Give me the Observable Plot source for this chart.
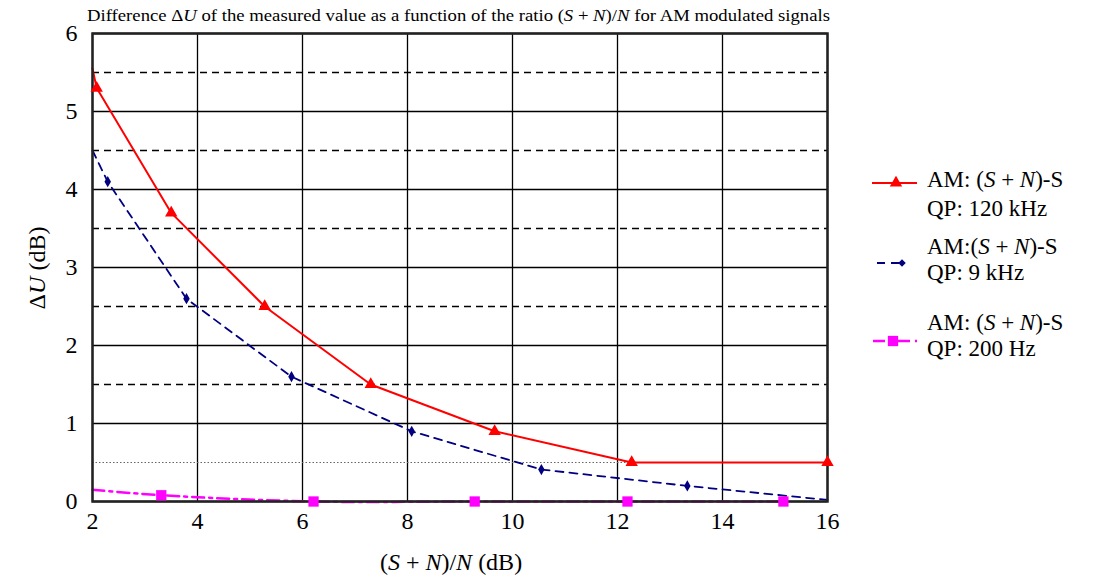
<!DOCTYPE html>
<html>
<head>
<meta charset="utf-8">
<script src="https://cdn.jsdelivr.net/npm/d3@7"></script>
<script src="https://cdn.jsdelivr.net/npm/@observablehq/plot@0.6"></script>
<style>
  body { margin: 0; background: white; }
  #chart { position: relative; width: 1093px; height: 580px; }
</style>
</head>
<body>
<div id="chart"></div>
<script>
// ---- data ----
const xTicks = [2, 4, 6, 8, 10, 12, 14, 16];
const yTicks = [0, 1, 2, 3, 4, 5, 6];
const dashedLevels = [1.5, 2.5, 3.5, 4.5, 5.5];
const dottedLevels = [0.5];

const redX = [2.0, 2.08, 3.5, 5.28, 7.3, 9.66, 12.27, 16.0];
const redY = [5.55, 5.3, 3.7, 2.5, 1.5, 0.9, 0.5, 0.5];
const redMarked = [false, true, true, true, true, true, true, true];

const blueX = [2.0, 2.29, 3.79, 5.79, 8.08, 10.55, 13.33, 16.0];
const blueY = [4.5, 4.1, 2.6, 1.6, 0.9, 0.41, 0.2, 0.02];
const blueMarked = [false, true, true, true, true, true, true, false];

const magX = [2.0, 3.31, 6.21, 9.28, 12.19, 15.16];
const magY = [0.15, 0.08, 0.0, 0.0, 0.0, 0.0];
const magMarked = [false, true, true, true, true, true];

const legendLines = [
  ["AM: (", "S", " + ", "N", ")-S"],
  ["AM:(", "S", " + ", "N", ")-S"],
  ["AM: (", "S", " + ", "N", ")-S"]
];
const legendSub = ["QP: 120 kHz", "QP: 9 kHz", "QP: 200 Hz"];

const toRows = (xs, ys, ms) => xs.map((x, i) => ({x, y: ys[i], m: ms[i]}));
const red = toRows(redX, redY, redMarked);
const blue = toRows(blueX, blueY, blueMarked);
const mag = toRows(magX, magY, magMarked);

const RED = "#ff0000", BLUE = "#000080", MAG = "#ff00ff";
const ff = "'Liberation Serif', 'Times New Roman', serif";

const plot = Plot.plot({
  width: 1093,
  height: 580,
  marginLeft: 92,
  marginRight: 266,
  marginTop: 33,
  marginBottom: 79,
  x: {domain: [2, 16], ticks: xTicks, label: null},
  y: {domain: [0, 6], ticks: yTicks, label: null},
  style: {fontFamily: ff, fontSize: "24px", color: "#000", background: "white", overflow: "visible"},
  marks: [
    Plot.ruleX(xTicks, {stroke: "#000", strokeWidth: 1.3}),
    Plot.ruleY(yTicks, {stroke: "#000", strokeWidth: 1.3}),
    Plot.ruleY(dashedLevels, {stroke: "#000", strokeWidth: 1.6, strokeDasharray: "7,5"}),
    Plot.ruleY(dottedLevels, {stroke: "#666", strokeWidth: 1, strokeDasharray: "1.5,2"}),
    Plot.line(mag, {x: "x", y: "y", stroke: MAG, strokeWidth: 2.5, strokeDasharray: "12,5,3,5", curve: "catmull-rom"}),
    Plot.line(blue, {x: "x", y: "y", stroke: BLUE, strokeWidth: 1.8, strokeDasharray: "8,6", curve: "linear"}),
    Plot.line(red, {x: "x", y: "y", stroke: RED, strokeWidth: 2, curve: "linear"}),
    Plot.frame({stroke: "#222", strokeWidth: 2.5}),
    Plot.dot(mag.filter(d => d.m), {x: "x", y: "y", symbol: "square", r: 5.8, fill: MAG, stroke: "none"}),
    Plot.dot(blue.filter(d => d.m), {x: "x", y: "y", symbol: "diamond", r: 3.4, fill: BLUE, stroke: "none"}),
    Plot.dot(red.filter(d => d.m), {x: "x", y: "y", symbol: "triangle", r: 4.6, fill: RED, stroke: "none"}),
    Plot.axisX(xTicks, {tickSize: 0, tickPadding: 10, tickFormat: d3.format("d")}),
    Plot.axisY(yTicks, {tickSize: 0, tickPadding: 15, tickFormat: d3.format("d")})
  ]
});

document.getElementById("chart").appendChild(plot);
const svg = d3.select(plot);
svg.selectAll("g[aria-label='x-axis tick label'], g[aria-label='y-axis tick label']")
  .attr("font-size", 24);

// Title
const title = svg.append("text")
  .attr("x", 87).attr("y", 21).attr("text-anchor", "start")
  .attr("font-family", ff).attr("font-size", 17).attr("fill", "#000")
  .attr("textLength", 743).attr("lengthAdjust", "spacingAndGlyphs");
[["Difference Δ", false], ["U", true], [" of the measured value as a function of the ratio (", false], ["S", true], [" + ", false], ["N", true], [")/", false], ["N", true], [" for AM modulated signals", false]]
  .forEach(([t, it]) => title.append("tspan").attr("font-style", it ? "italic" : null).text(t));

// Axis labels
const xl = svg.append("text").attr("x", 451).attr("y", 570).attr("text-anchor", "middle")
  .attr("font-family", ff).attr("font-size", 24).attr("fill", "#000");
[["(", false], ["S", true], [" + ", false], ["N", true], [")/", false], ["N", true], [" (dB)", false]]
  .forEach(([t, it]) => xl.append("tspan").attr("font-style", it ? "italic" : null).text(t));

const yl = svg.append("text").attr("transform", "translate(45,268) rotate(-90)").attr("text-anchor", "middle")
  .attr("font-family", ff).attr("font-size", 24).attr("fill", "#000");
[["Δ", false], ["U", true], [" (dB)", false]]
  .forEach(([t, it]) => yl.append("tspan").attr("font-style", it ? "italic" : null).text(t));

// Legend
const lg = svg.append("g").attr("text-anchor", "start");
const rowsY = [[187, 216], [254, 280], [330, 356]];
const sym = (type, size) => d3.symbol().type(type).size(size)();
lg.append("line").attr("x1", 872).attr("x2", 917).attr("y1", 183).attr("y2", 183).attr("stroke", RED).attr("stroke-width", 2);
lg.append("path").attr("d", sym(d3.symbolTriangle, Math.PI * 4.6 * 4.6)).attr("transform", "translate(896,183)").attr("fill", RED);
lg.append("line").attr("x1", 877).attr("x2", 903).attr("y1", 263).attr("y2", 263).attr("stroke", BLUE).attr("stroke-width", 1.8).attr("stroke-dasharray", "8,6");
lg.append("path").attr("d", sym(d3.symbolDiamond2, Math.PI * 3.4 * 3.4)).attr("transform", "translate(902,263)").attr("fill", BLUE);
lg.append("line").attr("x1", 873).attr("x2", 917).attr("y1", 341).attr("y2", 341).attr("stroke", MAG).attr("stroke-width", 2.5).attr("stroke-dasharray", "12,5,3,5");
lg.append("path").attr("d", sym(d3.symbolSquare, Math.PI * 5.8 * 5.8)).attr("transform", "translate(893,341)").attr("fill", MAG);

legendLines.forEach((parts, i) => {
  const t = lg.append("text").attr("x", 927).attr("y", rowsY[i][0]).attr("text-anchor", "start")
    .attr("font-family", ff).attr("font-size", 23).attr("fill", "#000");
  parts.forEach((p, j) => t.append("tspan").attr("font-style", (j === 1 || j === 3) ? "italic" : null).text(p));
  lg.append("text").attr("x", 927).attr("y", rowsY[i][1]).attr("text-anchor", "start")
    .attr("font-family", ff).attr("font-size", 23).attr("fill", "#000").text(legendSub[i]);
});
</script>
</body>
</html>
